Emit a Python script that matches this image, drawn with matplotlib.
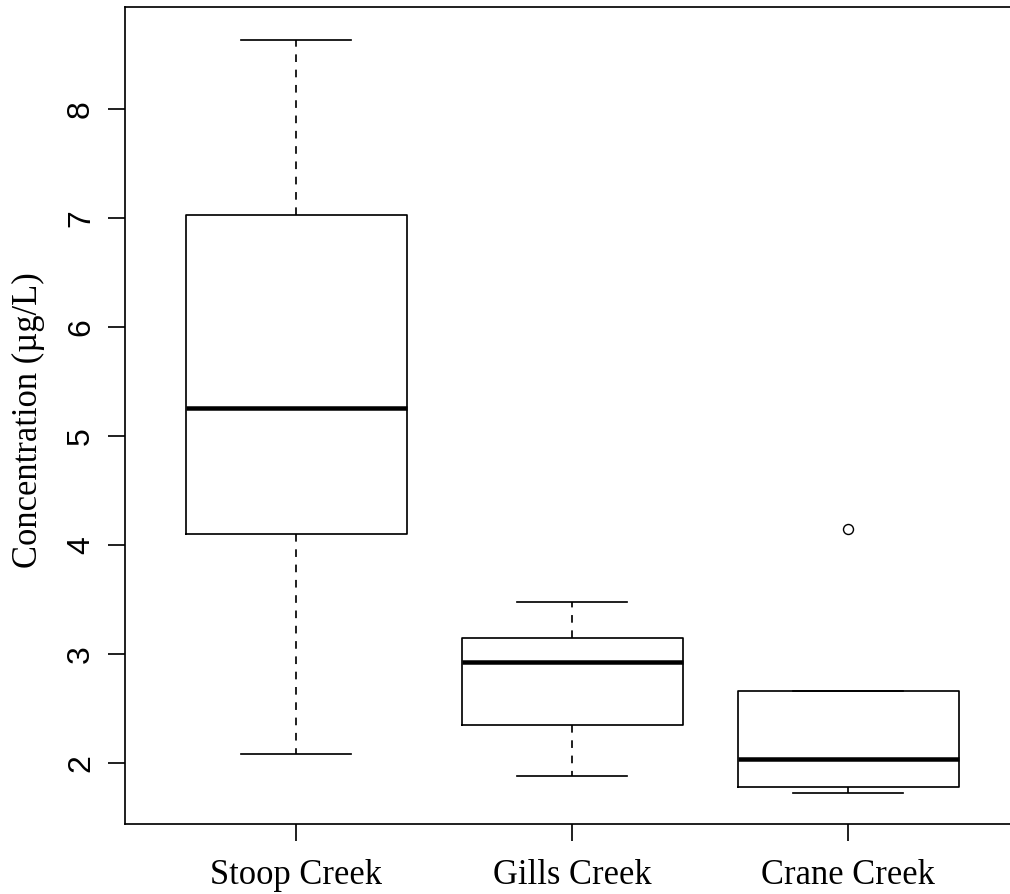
import matplotlib
matplotlib.use("Agg")
import matplotlib.pyplot as plt

# values (µg/L)
SITES = ["Stoop Creek", "Gills Creek", "Crane Creek"]
WHISKER_LOW = [2.09, 1.88, 1.73]
Q1 = [4.10, 2.35, 1.78]
MEDIAN = [5.26, 2.93, 2.04]
Q3 = [7.03, 3.15, 2.66]
WHISKER_HIGH = [8.64, 3.48, 2.66]
OUTLIERS = [[], [], [4.15]]
Y_TICKS = [2, 3, 4, 5, 6, 7, 8]

DPI = 72
W, H = 1010, 894
SERIF = "Liberation Serif"
SANS = "Liberation Sans"


def main():
    stats = []
    for i, name in enumerate(SITES):
        stats.append({
            "label": name,
            "whislo": WHISKER_LOW[i],
            "q1": Q1[i],
            "med": MEDIAN[i],
            "q3": Q3[i],
            "whishi": WHISKER_HIGH[i],
            "fliers": OUTLIERS[i],
        })

    fig = plt.figure(figsize=(W / DPI, H / DPI), dpi=DPI)
    fig.patch.set_linewidth(0)
    # plot region in pixels: left 125, top 7, bottom 824, right edge falls off the image
    left, right, top, bottom = 125, 1030, 7.3, 824
    ax = fig.add_axes([left / W, 1 - bottom / H, (right - left) / W, (bottom - top) / H])
    ax.patch.set_visible(False)

    lw = 1.7
    ax.bxp(stats, positions=[1, 2, 3], widths=0.8, capwidths=0.4,
           boxprops=dict(color="black", linewidth=lw),
           whiskerprops=dict(color="black", linewidth=lw, linestyle=(0, (4.5, 4.5))),
           capprops=dict(color="black", linewidth=lw),
           medianprops=dict(color="black", linewidth=4.5, solid_capstyle="butt"),
           flierprops=dict(marker="o", markerfacecolor="none", markeredgecolor="black",
                           markersize=10, markeredgewidth=1.4))

    # keep 276 px per category, as in the reference
    ax.set_xlim(0.38, 0.38 + (right - left) / 276)
    ax.set_ylim(1.444, 8.936)

    for sp in ax.spines.values():
        sp.set_linewidth(1.7)
    ax.spines["right"].set_visible(False)   # falls outside the cropped picture

    ax.set_yticks(Y_TICKS)
    ax.set_yticklabels([str(t) for t in Y_TICKS], rotation=90, va="center",
                       family=SANS, fontsize=32)
    ax.set_xticks([1, 2, 3])
    ax.set_xticklabels(SITES, family=SERIF, fontsize=34.5)
    ax.tick_params(axis="both", length=17, width=1.7, direction="out")
    ax.tick_params(axis="y", pad=12)
    ax.tick_params(axis="x", pad=18)

    fig.text(28.5 / W, 1 - 420 / H, "Concentration (\u00b5g/L)", rotation=90,
             ha="center", va="center", family=SERIF, fontsize=34.5)

    fig.savefig("out.png", dpi=DPI)
    plt.close(fig)


if __name__ == "__main__":
    main()
